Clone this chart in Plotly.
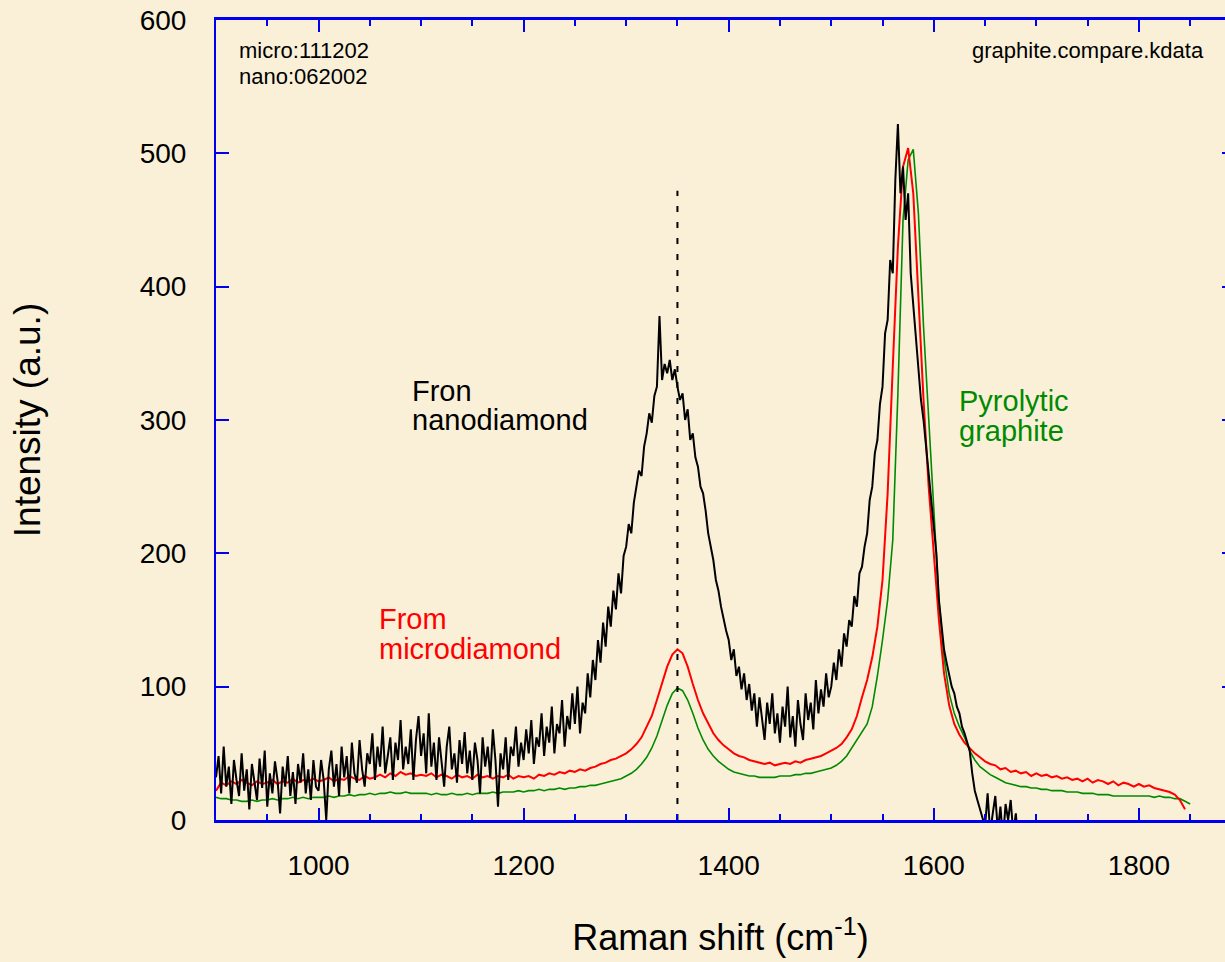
import plotly.graph_objects as go

# ---------------- data ----------------
X_START = 900
NANO_STEP = 2.5
STEP = 5

nano_vals = [
    # 900 - 997.5
    32, 48, 20, 55, 25, 40, 12, 45, 30, 18, 50, 22, 38, 8, 42, 28, 15, 46, 24, 52,
    10, 35, 20, 44, 30, 5, 40, 25, 48, 18, 36, 12, 42, 28, 50, 20, 38, 15, 45, 25,
    # 1000 - 1097.5
    22, 45, 30, 0, 38, 52, 25, 42, 18, 55, 32, 48, 20, 58, 35, 28, 60, 38, 25, 50,
    42, 65, 30, 55, 40, 70, 35, 48, 62, 30, 58, 45, 75, 38, 55, 42, 68, 30, 60, 78,
    # 1100 - 1197.5
    48, 65, 35, 80, 40, 58, 30, 62, 45, 25, 55, 70, 38, 50, 28, 60, 42, 66, 35, 52,
    30, 58, 45, 20, 62, 40, 55, 32, 68, 45, 10, 50, 38, 62, 30, 55, 48, 70, 40, 58,
    # 1200 - 1297.5
    45, 68, 50, 75, 42, 62, 55, 80, 48, 70, 58, 85, 50, 72, 65, 90, 55, 78, 68, 95,
    72, 100, 65, 88, 80, 110, 92, 120, 105, 135, 118, 148, 130, 160, 145, 172, 158, 185, 170, 198,
    # 1300 - 1397.5
    205, 222, 215, 238, 250, 262, 258, 280, 290, 305, 298, 318, 325, 378, 330, 342, 335, 345, 330, 338,
    325, 315, 320, 300, 308, 285, 290, 272, 265, 250, 245, 232, 215, 205, 195, 180, 172, 160, 150, 142,
    # 1400 - 1497.5
    135, 120, 128, 108, 115, 98, 110, 90, 102, 82, 95, 70, 92, 78, 60, 88, 72, 95, 65, 80,
    58, 85, 70, 100, 62, 78, 55, 90, 72, 60, 95, 75, 88, 68, 105, 80, 98, 85, 110, 92,
    # 1500 - 1597.5
    100, 118, 105, 128, 115, 140, 130, 150, 145, 168, 160, 185, 190, 205, 215, 240, 250, 275, 285, 312,
    325, 365, 375, 420, 410, 480, 522, 470, 490, 450, 470, 410, 385, 360, 340, 315, 300, 280, 260, 245,
    # 1600 - 1690
    225, 200, 165, 145, 128, 118, 110, 100, 95, 85, 80, 70, 65, 58, 52, 35, 22, 15, 8, 2,
    -5, 20, -10, 5, 18, -8, 10, -15, 12, 0, 15, -10, 5, -20, -5, -25, -30,
]

micro_vals = [
    22, 28, 26, 29, 27, 30, 28, 26, 29, 27, 28, 30, 27, 29, 28, 31, 28, 30, 29, 31, 29,
    30, 32, 29, 31, 30, 33, 31, 30, 33, 31, 32, 34, 32, 35, 33, 36, 34, 35, 33, 34,
    33, 35, 32, 34, 33, 31, 34, 32, 33, 31, 34, 32, 33, 31, 33, 32, 34, 31, 33, 32,
    33, 31, 34, 33, 35, 34, 36, 35, 37, 36, 38, 37, 39, 40, 42, 43, 45, 46, 48, 50,
    53, 57, 62, 70, 78, 90, 103, 115, 124, 128, 125, 115, 102, 90, 80, 72, 65, 60, 56, 53,
    50, 48, 47, 45, 44, 43, 42, 43, 41, 42, 43, 42, 44, 43, 45, 46, 47, 48, 50, 52,
    54, 57, 62, 68, 78, 92, 105, 122, 145, 180, 245, 340, 430, 490, 504, 470, 390, 315, 250, 200,
    150, 110, 86, 72, 64, 58, 54, 50, 47, 44, 42, 41, 38, 39, 36, 37, 35, 36, 33, 35,
    33, 34, 32, 33, 31, 32, 30, 31, 29, 31, 28, 30, 29, 27, 29, 26, 28, 27, 25, 27,
    25, 26, 24, 23, 22, 21, 19, 15, 8,
]

pyro_vals = [
    17, 16, 16, 15, 15, 14, 14, 15, 14, 15, 15, 16, 15, 16, 16, 17, 16, 17, 16, 17, 17,
    17, 18, 17, 18, 18, 19, 18, 19, 19, 20, 19, 20, 20, 21, 20, 20, 21, 20, 20, 20,
    20, 19, 20, 19, 19, 20, 19, 19, 20, 19, 20, 20, 20, 21, 20, 21, 21, 21, 22, 21,
    22, 22, 23, 22, 23, 23, 24, 23, 24, 24, 25, 25, 26, 26, 27, 28, 29, 30, 31, 33,
    35, 38, 42, 47, 54, 63, 74, 86, 95, 99, 97, 90, 80, 69, 60, 53, 48, 44, 41, 38,
    36, 35, 34, 33, 33, 32, 32, 32, 32, 33, 33, 33, 34, 34, 35, 35, 36, 37, 38, 39,
    41, 44, 48, 54, 60, 66, 72, 85, 108, 135, 165, 210, 320, 450, 495, 503, 455, 370, 300, 230,
    165, 122, 95, 80, 70, 62, 52, 45, 40, 37, 34, 32, 30, 28, 27, 26, 25, 25, 24, 24,
    23, 23, 22, 22, 22, 21, 21, 21, 20, 20, 20, 19, 19, 19, 18, 18, 18, 18, 18, 18,
    18, 18, 17, 18, 17, 17, 16, 16, 14, 12,
]

D_BAND = 1350
D_BAND_TOP = 472

X_RANGE = [900, 1884]
Y_RANGE = [0, 600]
X_TICKS = [1000, 1200, 1400, 1600, 1800]
Y_TICKS = [0, 100, 200, 300, 400, 500, 600]


def xs(vals, step):
    return [X_START + step * i for i in range(len(vals))]


BLUE = "#0000F0"
BG = "#FAF0D8"
GREEN = "#008A00"
FONT = "Liberation Sans, Arial, sans-serif"

fig = go.Figure()
fig.add_trace(go.Scatter(x=xs(pyro_vals, STEP), y=pyro_vals, mode="lines",
                         line=dict(color=GREEN, width=1.6), name="Pyrolytic graphite"))
fig.add_trace(go.Scatter(x=xs(micro_vals, STEP), y=micro_vals, mode="lines",
                         line=dict(color="#FF0000", width=2), name="From microdiamond"))
fig.add_trace(go.Scatter(x=xs(nano_vals, NANO_STEP), y=nano_vals, mode="lines",
                         line=dict(color="#000000", width=2), name="Fron nanodiamond"))
fig.add_trace(go.Scatter(x=[D_BAND, D_BAND], y=[0, D_BAND_TOP], mode="lines",
                         line=dict(color="#000000", width=2, dash="6px,10px"), name="D band"))
# invisible trace to anchor the right-hand tick axis
fig.add_trace(go.Scatter(x=[X_RANGE[0]], y=[Y_RANGE[0]], yaxis="y2", mode="markers",
                         marker=dict(opacity=0), hoverinfo="skip", showlegend=False))

fig.update_layout(
    width=1225, height=962,
    margin=dict(l=216, r=0, t=20, b=142),
    paper_bgcolor=BG, plot_bgcolor=BG,
    showlegend=False,
    font=dict(family=FONT, color="#000000"),
    xaxis=dict(
        range=X_RANGE, tickvals=X_TICKS, ticks="inside", ticklen=12, tickwidth=2,
        tickcolor=BLUE, showline=True, linecolor=BLUE, linewidth=3, mirror="ticks",
        showgrid=False, zeroline=False, tickfont=dict(size=28, family=FONT),
        ticklabelstandoff=18,
        minor=dict(dtick=50, tick0=0, ticks="inside", ticklen=6, tickwidth=2, tickcolor=BLUE, showgrid=False),
        title=dict(text="Raman shift (cm<sup>-1</sup>)", font=dict(size=36, family=FONT), standoff=46),
    ),
    yaxis=dict(
        range=Y_RANGE, tickvals=Y_TICKS, ticks="inside", ticklen=13, tickwidth=2,
        tickcolor=BLUE, showline=True, linecolor=BLUE, linewidth=2,
        showgrid=False, zeroline=False, tickfont=dict(size=28, family=FONT),
        ticklabelstandoff=22,
        title=dict(text="Intensity (a.u.)", font=dict(size=37, family=FONT), standoff=88),
    ),
    yaxis2=dict(
        range=Y_RANGE, tickvals=Y_TICKS, overlaying="y", side="right", ticks="inside",
        ticklen=3, tickwidth=2, tickcolor=BLUE, showline=False, showgrid=False,
        zeroline=False, showticklabels=False,
    ),
)

ann_small = dict(size=22, family=FONT, color="#000000")
ann_big = 29
notes = [
    ("micro:111202", 920, 577, "left", ann_small),
    ("nano:062002", 920, 558, "left", ann_small),
    ("graphite.compare.kdata", 1865, 577, "right", ann_small),
    ("Fron", 1089, 322, "left", dict(size=ann_big, family=FONT, color="#000000")),
    ("nanodiamond", 1089, 300, "left", dict(size=ann_big, family=FONT, color="#000000")),
    ("From", 1057, 151, "left", dict(size=ann_big, family=FONT, color="#FF0000")),
    ("microdiamond", 1057, 128.5, "left", dict(size=ann_big, family=FONT, color="#FF0000")),
    ("Pyrolytic", 1623, 314, "left", dict(size=ann_big, family=FONT, color=GREEN)),
    ("graphite", 1623, 292, "left", dict(size=ann_big, family=FONT, color=GREEN)),
]
for text, x, y, anchor, f in notes:
    fig.add_annotation(x=x, y=y, xref="x", yref="y", text=text, showarrow=False,
                       xanchor=anchor, yanchor="middle", font=f)

fig.write_html("out.html")
